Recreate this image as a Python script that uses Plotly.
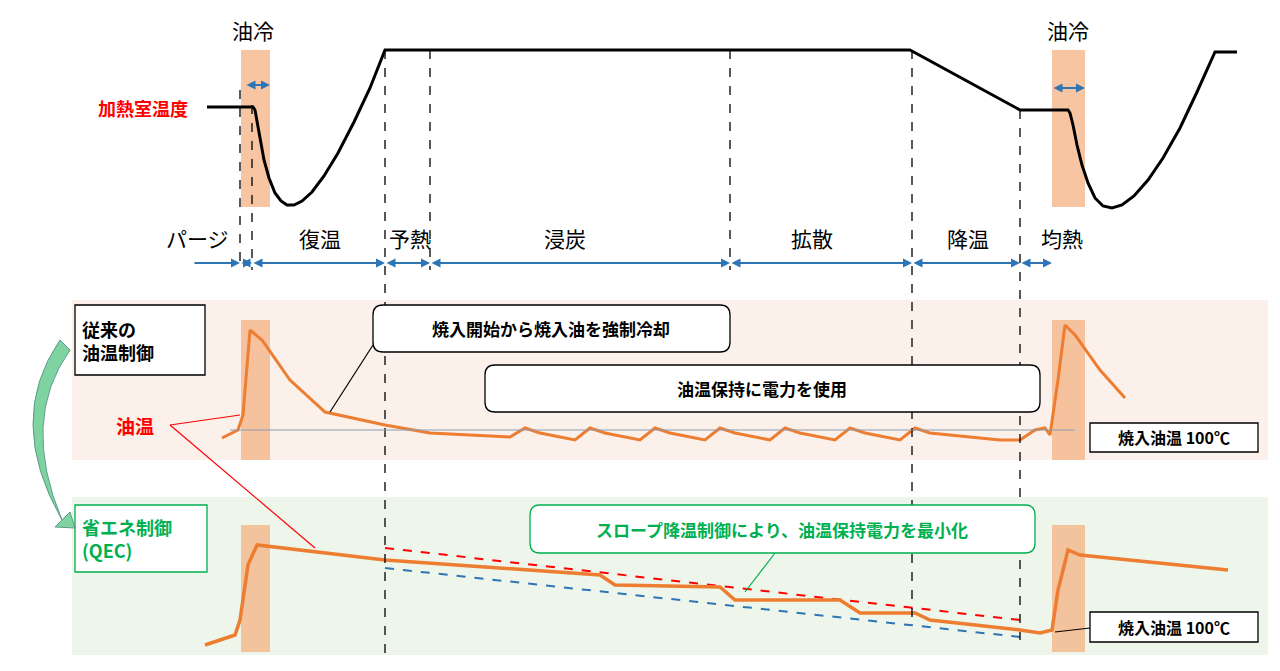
import plotly.graph_objects as go

# heating chamber temperature profile (pixel-space diagram)
temp_x = [207,253,255,257,260,264,269,275,281,287,294,302,312,324,338,354,370,385,910,1020,1068,1070,1073,1077,1082,1088,1095,1103,1112,1122,1134,1148,1163,1180,1197,1215,1237]
temp_y = [107,107,110,122,140,160,178,193,201,205,205,201,192,176,153,122,88,50,50,110,110,113,125,145,165,183,198,206,208,205,196,180,158,128,92,52,52]
# conventional oil temperature
conv_x = [222,238,243,250,262,290,325,385,430,510,525,540,575,590,605,640,655,670,705,720,735,770,785,800,835,850,865,900,915,930,1000,1020,1035,1045,1050,1058,1065,1075,1100,1125]
conv_y = [438,430,415,330,340,380,412,425,433,437,428,433,440,428,433,440,428,433,440,428,433,440,428,433,440,428,433,440,428,433,440,440,430,428,435,380,325,335,370,398]
# QEC oil temperature
qec_x = [205,235,240,248,257,385,600,615,720,735,840,860,915,930,1020,1040,1052,1058,1068,1080,1228]
qec_y = [645,635,620,565,545,560,575,585,587,600,600,613,613,620,630,633,630,590,550,555,570]
red_x = [385,1020]; red_y = [548,620]
blue_x = [385,1020]; blue_y = [568,637]
phase_labels = ["パージ","復温","予熱","浸炭","拡散","降温","均熱"]
phase_x = [197,320,410,565,812,968,1062]
bounds = [193,240,252,385,430,730,912,1020,1052]

F = "Noto Sans CJK JP"
OR = "#ed7d31"; BAND = "rgba(244,177,131,0.75)"; BL = "#2e75b6"; GR = "#00b050"
fig = go.Figure()
shapes = []
ann = []
shapes.append(dict(type="rect", x0=72, x1=1268, y0=300, y1=460, fillcolor="#fbf0ea", line_width=0, layer="below"))
shapes.append(dict(type="rect", x0=72, x1=1268, y0=497, y1=655, fillcolor="#eef5ea", line_width=0, layer="below"))
for (xa, xb) in [(241,270),(1052,1085)]:
    for (ya, yb) in [(50,207),(320,460),(525,652)]:
        shapes.append(dict(type="rect", x0=xa, x1=xb, y0=ya, y1=yb, fillcolor=BAND, line_width=0, layer="below"))
for (x, ya, yb) in [(240,90,270),(252,105,270),(385,50,655),(430,50,270),(730,50,270),(912,50,620),(1020,110,640)]:
    shapes.append(dict(type="line", x0=x, x1=x, y0=ya, y1=yb, line=dict(color="black", width=1.3, dash="dash")))
shapes.append(dict(type="line", x0=230, x1=1075, y0=430, y1=430, line=dict(color="#8c9bb0", width=1.2)))
def box(x0,x1,y0,y1,col,r=False):
    if r:
        rr=10
        p=f"M{x0+rr},{y0} L{x1-rr},{y0} Q{x1},{y0} {x1},{y0+rr} L{x1},{y1-rr} Q{x1},{y1} {x1-rr},{y1} L{x0+rr},{y1} Q{x0},{y1} {x0},{y1-rr} L{x0},{y0+rr} Q{x0},{y0} {x0+rr},{y0} Z"
        shapes.append(dict(type="path", path=p, fillcolor="white", line=dict(color=col,width=1.3)))
    else:
        shapes.append(dict(type="rect", x0=x0,x1=x1,y0=y0,y1=y1, fillcolor="white", line=dict(color=col,width=1.3)))
box(75,205,305,375,"black"); box(75,207,505,572,GR)
box(373,730,305,352,"black",True); box(485,1040,365,412,"black",True); box(530,1035,505,553,GR,True)
box(1090,1258,423,452,"black"); box(1090,1258,612,642,"black")
for (a,b,c,d,col) in [(373,345,330,412,"black"),(170,425,240,415,"red"),(170,425,315,548,"red"),(775,553,745,592,GR),(1090,628,1055,632,"black")]:
    shapes.append(dict(type="line", x0=a,y0=b,x1=c,y1=d, line=dict(color=col,width=1.2)))
shapes.append(dict(type="path", path="M60,340 Q5,420 62,520 L70,512 L75,528 L55,527 L62,520 Q20,420 70,350 Z", fillcolor="#7fd3a0", line=dict(color="#5a9a8a",width=1)))

fig.add_trace(go.Scatter(x=temp_x, y=temp_y, mode="lines", line=dict(color="black", width=3)))
fig.add_trace(go.Scatter(x=conv_x, y=conv_y, mode="lines", line=dict(color=OR, width=3)))
fig.add_trace(go.Scatter(x=red_x, y=red_y, mode="lines", line=dict(color="red", width=2, dash="dash")))
fig.add_trace(go.Scatter(x=blue_x, y=blue_y, mode="lines", line=dict(color=BL, width=2, dash="dash")))
fig.add_trace(go.Scatter(x=qec_x, y=qec_y, mode="lines", line=dict(color=OR, width=3.5)))

def darrow(x0,x1,y,side="start+end"):
    ann.append(dict(x=x1,y=y,ax=x0,ay=y,xref="x",yref="y",axref="x",ayref="y",showarrow=True,arrowhead=2,startarrowhead=2,
                    arrowside=side,arrowsize=1,startarrowsize=1,arrowwidth=1.8,arrowcolor=BL,text=""))
for i in range(len(bounds)-1):
    darrow(bounds[i],bounds[i+1],263,"end" if i==0 else "start+end")
darrow(245,270,85); darrow(1052,1085,88)

def t(x,y,s,size=20,col="black",bold=False,anchor="center"):
    ann.append(dict(x=x,y=y,text=f"<b>{s}</b>" if bold else s,showarrow=False,xanchor=anchor,align=anchor if anchor!="center" else "center",font=dict(family=F,size=size,color=col)))
for lab,x in zip(phase_labels,phase_x): t(x,238,lab,21)
t(253,30,"油冷",21); t(1068,30,"油冷",21)
t(143,108,"加熱室温度",18,"red",True)
t(80,340,"従来の<br>油温制御",18,"black",True,"left")
t(80,538,"省エネ制御<br>(QEC)",18,GR,True,"left")
t(135,425,"油温",19,"red",True)
t(551,328,"焼入開始から焼入油を強制冷却",17,"black",True)
t(762,388,"油温保持に電力を使用",17,"black",True)
t(782,529,"スロープ降温制御により、油温保持電力を最小化",17,GR,True)
t(1174,437,"焼入油温 100℃",16,"black",True)
t(1174,627,"焼入油温 100℃",16,"black",True)

fig.update_layout(width=1280,height=671,margin=dict(l=0,r=0,t=0,b=0),plot_bgcolor="white",paper_bgcolor="white",
    showlegend=False,shapes=shapes,annotations=ann,
    xaxis=dict(range=[0,1280],visible=False,fixedrange=True),
    yaxis=dict(range=[671,0],visible=False,fixedrange=True))
fig.write_html("out.html", config={"displayModeBar": False},
               post_script="document.body.style.margin='0';document.body.style.overflow='hidden';")
